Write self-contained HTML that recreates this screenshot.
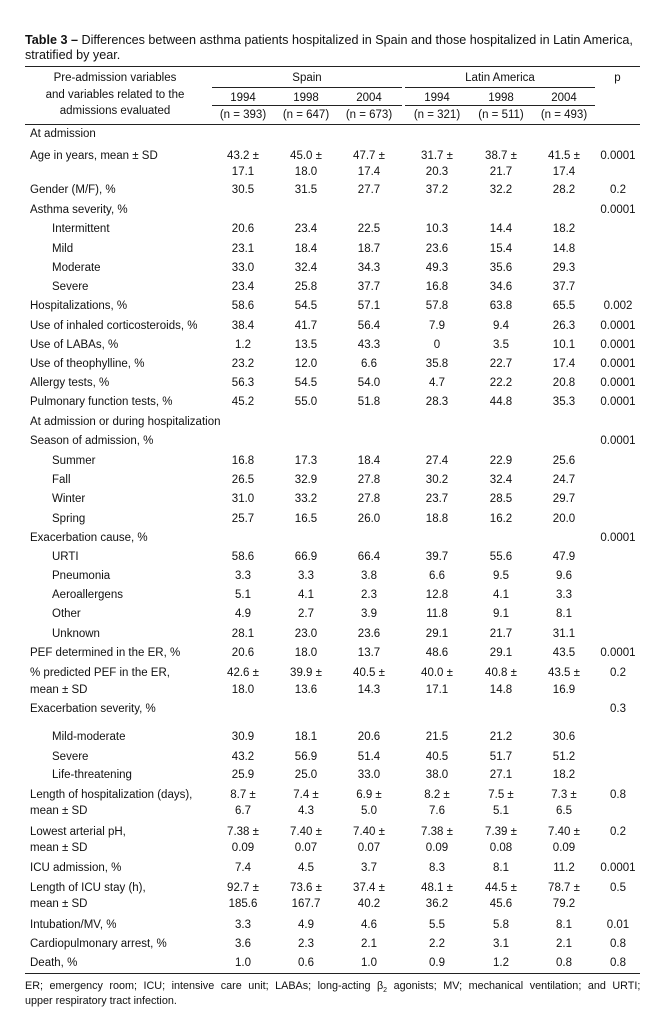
<!DOCTYPE html>
<html><head><meta charset="utf-8"><style>
body{margin:0;background:#fff;width:666px;height:1034px;position:relative;overflow:hidden;font-family:"Liberation Sans",sans-serif;color:#111;font-size:11.5px}
.a{position:absolute;white-space:nowrap;line-height:16px}
.r{position:absolute;left:0;width:666px;height:16px;line-height:16px}
.r span{position:absolute;top:0;white-space:nowrap}
.l{left:30px}.s{left:52px}
.c1,.c2,.c3,.c4,.c5,.c6,.c7{width:70px;text-align:center}
.c1{left:208px}.c2{left:271px}.c3{left:334px}.c4{left:402px}.c5{left:466px}.c6{left:529px}.c7{left:583px}
.hl{position:absolute;height:1px;background:#222}
</style></head><body>
<div class="a" style="left:25px;top:32px;font-size:12.6px"><b>Table 3 –</b> Differences between asthma patients hospitalized in Spain and those hospitalized in Latin America,</div>
<div class="a" style="left:25px;top:47px;font-size:12.6px">stratified by year.</div>
<div class="hl" style="left:25px;width:615px;top:66px;height:1.3px"></div>
<div class="a" style="left:30px;width:170px;text-align:center;top:70px;line-height:16.5px">Pre-admission variables<br>and variables related to the<br>admissions evaluated</div>
<div class="a" style="left:212px;width:190px;text-align:center;top:70px">Spain</div>
<div class="a" style="left:405px;width:190px;text-align:center;top:70px">Latin America</div>
<div class="a" style="left:600px;width:35px;text-align:center;top:70px">p</div>
<div class="hl" style="left:212px;width:190px;top:87px"></div>
<div class="hl" style="left:405px;width:190px;top:87px"></div>
<div class="r" style="top:90px"><span class="c1">1994</span><span class="c2">1998</span><span class="c3">2004</span><span class="c4">1994</span><span class="c5">1998</span><span class="c6">2004</span></div>
<div class="hl" style="left:212px;width:190px;top:105px"></div>
<div class="hl" style="left:405px;width:190px;top:105px"></div>
<div class="r" style="top:107px"><span class="c1">(n = 393)</span><span class="c2">(n = 647)</span><span class="c3">(n = 673)</span><span class="c4">(n = 321)</span><span class="c5">(n = 511)</span><span class="c6">(n = 493)</span></div>
<div class="hl" style="left:25px;width:615px;top:124px"></div>

<div class="r" style="top:126px"><span class="l">At admission</span></div>
<div class="r" style="top:148px"><span class="l">Age in years, mean ± SD</span><span class="c1">43.2 ±</span><span class="c2">45.0 ±</span><span class="c3">47.7 ±</span><span class="c4">31.7 ±</span><span class="c5">38.7 ±</span><span class="c6">41.5 ±</span><span class="c7">0.0001</span></div>
<div class="r" style="top:164px"><span class="c1">17.1</span><span class="c2">18.0</span><span class="c3">17.4</span><span class="c4">20.3</span><span class="c5">21.7</span><span class="c6">17.4</span></div>
<div class="r" style="top:182px"><span class="l">Gender (M/F), %</span><span class="c1">30.5</span><span class="c2">31.5</span><span class="c3">27.7</span><span class="c4">37.2</span><span class="c5">32.2</span><span class="c6">28.2</span><span class="c7">0.2</span></div>
<div class="r" style="top:202px"><span class="l">Asthma severity, %</span><span class="c7">0.0001</span></div>
<div class="r" style="top:221px"><span class="s">Intermittent</span><span class="c1">20.6</span><span class="c2">23.4</span><span class="c3">22.5</span><span class="c4">10.3</span><span class="c5">14.4</span><span class="c6">18.2</span></div>
<div class="r" style="top:241px"><span class="s">Mild</span><span class="c1">23.1</span><span class="c2">18.4</span><span class="c3">18.7</span><span class="c4">23.6</span><span class="c5">15.4</span><span class="c6">14.8</span></div>
<div class="r" style="top:260px"><span class="s">Moderate</span><span class="c1">33.0</span><span class="c2">32.4</span><span class="c3">34.3</span><span class="c4">49.3</span><span class="c5">35.6</span><span class="c6">29.3</span></div>
<div class="r" style="top:279px"><span class="s">Severe</span><span class="c1">23.4</span><span class="c2">25.8</span><span class="c3">37.7</span><span class="c4">16.8</span><span class="c5">34.6</span><span class="c6">37.7</span></div>
<div class="r" style="top:298px"><span class="l">Hospitalizations, %</span><span class="c1">58.6</span><span class="c2">54.5</span><span class="c3">57.1</span><span class="c4">57.8</span><span class="c5">63.8</span><span class="c6">65.5</span><span class="c7">0.002</span></div>
<div class="r" style="top:318px"><span class="l">Use of inhaled corticosteroids, %</span><span class="c1">38.4</span><span class="c2">41.7</span><span class="c3">56.4</span><span class="c4">7.9</span><span class="c5">9.4</span><span class="c6">26.3</span><span class="c7">0.0001</span></div>
<div class="r" style="top:337px"><span class="l">Use of LABAs, %</span><span class="c1">1.2</span><span class="c2">13.5</span><span class="c3">43.3</span><span class="c4">0</span><span class="c5">3.5</span><span class="c6">10.1</span><span class="c7">0.0001</span></div>
<div class="r" style="top:356px"><span class="l">Use of theophylline, %</span><span class="c1">23.2</span><span class="c2">12.0</span><span class="c3">6.6</span><span class="c4">35.8</span><span class="c5">22.7</span><span class="c6">17.4</span><span class="c7">0.0001</span></div>
<div class="r" style="top:375px"><span class="l">Allergy tests, %</span><span class="c1">56.3</span><span class="c2">54.5</span><span class="c3">54.0</span><span class="c4">4.7</span><span class="c5">22.2</span><span class="c6">20.8</span><span class="c7">0.0001</span></div>
<div class="r" style="top:394px"><span class="l">Pulmonary function tests, %</span><span class="c1">45.2</span><span class="c2">55.0</span><span class="c3">51.8</span><span class="c4">28.3</span><span class="c5">44.8</span><span class="c6">35.3</span><span class="c7">0.0001</span></div>
<div class="r" style="top:414px"><span class="l">At admission or during hospitalization</span></div>
<div class="r" style="top:433px"><span class="l">Season of admission, %</span><span class="c7">0.0001</span></div>
<div class="r" style="top:453px"><span class="s">Summer</span><span class="c1">16.8</span><span class="c2">17.3</span><span class="c3">18.4</span><span class="c4">27.4</span><span class="c5">22.9</span><span class="c6">25.6</span></div>
<div class="r" style="top:472px"><span class="s">Fall</span><span class="c1">26.5</span><span class="c2">32.9</span><span class="c3">27.8</span><span class="c4">30.2</span><span class="c5">32.4</span><span class="c6">24.7</span></div>
<div class="r" style="top:491px"><span class="s">Winter</span><span class="c1">31.0</span><span class="c2">33.2</span><span class="c3">27.8</span><span class="c4">23.7</span><span class="c5">28.5</span><span class="c6">29.7</span></div>
<div class="r" style="top:511px"><span class="s">Spring</span><span class="c1">25.7</span><span class="c2">16.5</span><span class="c3">26.0</span><span class="c4">18.8</span><span class="c5">16.2</span><span class="c6">20.0</span></div>
<div class="r" style="top:530px"><span class="l">Exacerbation cause, %</span><span class="c7">0.0001</span></div>
<div class="r" style="top:549px"><span class="s">URTI</span><span class="c1">58.6</span><span class="c2">66.9</span><span class="c3">66.4</span><span class="c4">39.7</span><span class="c5">55.6</span><span class="c6">47.9</span></div>
<div class="r" style="top:568px"><span class="s">Pneumonia</span><span class="c1">3.3</span><span class="c2">3.3</span><span class="c3">3.8</span><span class="c4">6.6</span><span class="c5">9.5</span><span class="c6">9.6</span></div>
<div class="r" style="top:587px"><span class="s">Aeroallergens</span><span class="c1">5.1</span><span class="c2">4.1</span><span class="c3">2.3</span><span class="c4">12.8</span><span class="c5">4.1</span><span class="c6">3.3</span></div>
<div class="r" style="top:606px"><span class="s">Other</span><span class="c1">4.9</span><span class="c2">2.7</span><span class="c3">3.9</span><span class="c4">11.8</span><span class="c5">9.1</span><span class="c6">8.1</span></div>
<div class="r" style="top:626px"><span class="s">Unknown</span><span class="c1">28.1</span><span class="c2">23.0</span><span class="c3">23.6</span><span class="c4">29.1</span><span class="c5">21.7</span><span class="c6">31.1</span></div>
<div class="r" style="top:645px"><span class="l">PEF determined in the ER, %</span><span class="c1">20.6</span><span class="c2">18.0</span><span class="c3">13.7</span><span class="c4">48.6</span><span class="c5">29.1</span><span class="c6">43.5</span><span class="c7">0.0001</span></div>
<div class="r" style="top:665px"><span class="l">% predicted PEF in the ER,</span><span class="c1">42.6 ±</span><span class="c2">39.9 ±</span><span class="c3">40.5 ±</span><span class="c4">40.0 ±</span><span class="c5">40.8 ±</span><span class="c6">43.5 ±</span><span class="c7">0.2</span></div>
<div class="r" style="top:682px"><span class="l">mean ± SD</span><span class="c1">18.0</span><span class="c2">13.6</span><span class="c3">14.3</span><span class="c4">17.1</span><span class="c5">14.8</span><span class="c6">16.9</span></div>
<div class="r" style="top:701px"><span class="l">Exacerbation severity, %</span><span class="c7">0.3</span></div>
<div class="r" style="top:729px"><span class="s">Mild-moderate</span><span class="c1">30.9</span><span class="c2">18.1</span><span class="c3">20.6</span><span class="c4">21.5</span><span class="c5">21.2</span><span class="c6">30.6</span></div>
<div class="r" style="top:749px"><span class="s">Severe</span><span class="c1">43.2</span><span class="c2">56.9</span><span class="c3">51.4</span><span class="c4">40.5</span><span class="c5">51.7</span><span class="c6">51.2</span></div>
<div class="r" style="top:767px"><span class="s">Life-threatening</span><span class="c1">25.9</span><span class="c2">25.0</span><span class="c3">33.0</span><span class="c4">38.0</span><span class="c5">27.1</span><span class="c6">18.2</span></div>
<div class="r" style="top:787px"><span class="l">Length of hospitalization (days),</span><span class="c1">8.7 ±</span><span class="c2">7.4 ±</span><span class="c3">6.9 ±</span><span class="c4">8.2 ±</span><span class="c5">7.5 ±</span><span class="c6">7.3 ±</span><span class="c7">0.8</span></div>
<div class="r" style="top:803px"><span class="l">mean ± SD</span><span class="c1">6.7</span><span class="c2">4.3</span><span class="c3">5.0</span><span class="c4">7.6</span><span class="c5">5.1</span><span class="c6">6.5</span></div>
<div class="r" style="top:824px"><span class="l">Lowest arterial pH,</span><span class="c1">7.38 ±</span><span class="c2">7.40 ±</span><span class="c3">7.40 ±</span><span class="c4">7.38 ±</span><span class="c5">7.39 ±</span><span class="c6">7.40 ±</span><span class="c7">0.2</span></div>
<div class="r" style="top:840px"><span class="l">mean ± SD</span><span class="c1">0.09</span><span class="c2">0.07</span><span class="c3">0.07</span><span class="c4">0.09</span><span class="c5">0.08</span><span class="c6">0.09</span></div>
<div class="r" style="top:860px"><span class="l">ICU admission, %</span><span class="c1">7.4</span><span class="c2">4.5</span><span class="c3">3.7</span><span class="c4">8.3</span><span class="c5">8.1</span><span class="c6">11.2</span><span class="c7">0.0001</span></div>
<div class="r" style="top:880px"><span class="l">Length of ICU stay (h),</span><span class="c1">92.7 ±</span><span class="c2">73.6 ±</span><span class="c3">37.4 ±</span><span class="c4">48.1 ±</span><span class="c5">44.5 ±</span><span class="c6">78.7 ±</span><span class="c7">0.5</span></div>
<div class="r" style="top:896px"><span class="l">mean ± SD</span><span class="c1">185.6</span><span class="c2">167.7</span><span class="c3">40.2</span><span class="c4">36.2</span><span class="c5">45.6</span><span class="c6">79.2</span></div>
<div class="r" style="top:917px"><span class="l">Intubation/MV, %</span><span class="c1">3.3</span><span class="c2">4.9</span><span class="c3">4.6</span><span class="c4">5.5</span><span class="c5">5.8</span><span class="c6">8.1</span><span class="c7">0.01</span></div>
<div class="r" style="top:936px"><span class="l">Cardiopulmonary arrest, %</span><span class="c1">3.6</span><span class="c2">2.3</span><span class="c3">2.1</span><span class="c4">2.2</span><span class="c5">3.1</span><span class="c6">2.1</span><span class="c7">0.8</span></div>
<div class="r" style="top:955px"><span class="l">Death, %</span><span class="c1">1.0</span><span class="c2">0.6</span><span class="c3">1.0</span><span class="c4">0.9</span><span class="c5">1.2</span><span class="c6">0.8</span><span class="c7">0.8</span></div>
<div class="hl" style="left:25px;width:615px;top:973px"></div>
<div class="a" style="left:25px;top:978px;font-size:10.8px;word-spacing:3.5px">ER; emergency room; ICU; intensive care unit; LABAs; long-acting β<sub style="font-size:7px">2</sub> agonists; MV; mechanical ventilation; and URTI;</div>
<div class="a" style="left:25px;top:993px;font-size:10.8px">upper respiratory tract infection.</div>
</body></html>
